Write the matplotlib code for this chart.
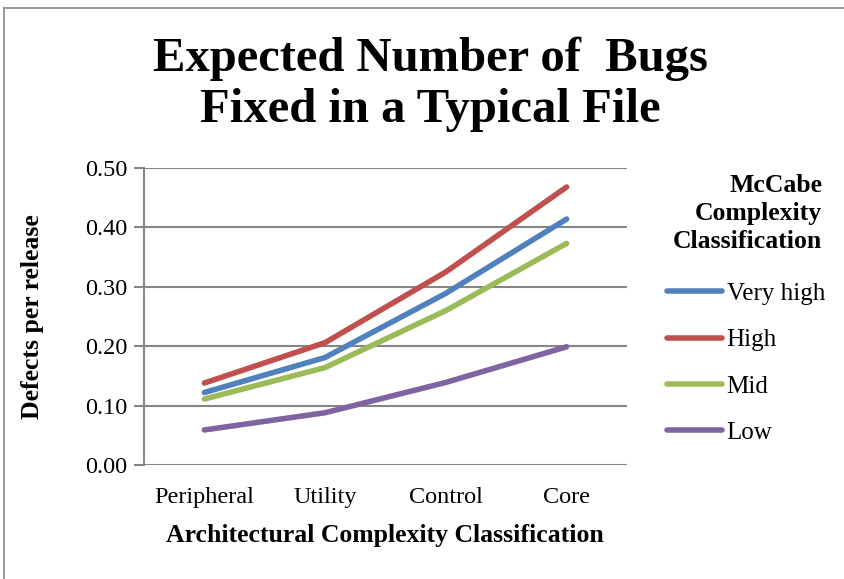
import matplotlib
matplotlib.use("Agg")
import matplotlib.pyplot as plt
from matplotlib.lines import Line2D

categories = ["Peripheral", "Utility", "Control", "Core"]
very_high = [0.122, 0.181, 0.289, 0.414]
high = [0.138, 0.206, 0.325, 0.468]
mid = [0.111, 0.164, 0.260, 0.373]
low = [0.059, 0.088, 0.139, 0.199]
series_names = ["Very high", "High", "Mid", "Low"]
colors = ["#4F81BD", "#C0504D", "#9BBB59", "#8064A2"]
yticks = [0.0, 0.1, 0.2, 0.3, 0.4, 0.5]

plt.rcParams['font.family'] = ['Liberation Serif', 'DejaVu Serif']

fig = plt.figure(figsize=(8.45, 5.79), dpi=100)
ax = fig.add_axes([0.1704, 0.1969, 0.5716, 0.5130])

x = list(range(len(categories)))
for vals, name, c in zip([very_high, high, mid, low], series_names, colors):
    ax.plot(x, vals, color=c, lw=4, solid_capstyle='round', solid_joinstyle='round', label=name, zorder=3)

ax.set_xlim(-0.5, 3.5)
ax.set_ylim(0, 0.5)
ax.set_yticks(yticks)
ax.set_yticklabels([f"{v:.2f}" for v in yticks], fontsize=17.5)
ax.set_xticks(x)
ax.set_xticklabels(categories, fontsize=17.5)
ax.grid(axis='y', color='#868686', lw=1.5)
ax.set_axisbelow(True)
for s in ['top', 'right', 'bottom']:
    ax.spines[s].set_visible(False)
ax.spines['left'].set_color('#868686')
ax.spines['left'].set_linewidth(1.5)
ax.tick_params(axis='y', length=7, width=1.5, color='#868686', pad=5)
ax.tick_params(axis='x', length=0, pad=16)

ax.set_xlabel("Architectural Complexity Classification", fontsize=18.5, fontweight='bold')
ax.xaxis.set_label_coords(0.499, -0.198)
ax.set_ylabel("Defects per release", fontsize=18.5, fontweight='bold')
ax.yaxis.set_label_coords(-0.207, 0.5)

fig.text(0.509, 0.855, "Expected Number of  Bugs\nFixed in a Typical File", ha='center', va='center',
         fontsize=35, fontweight='bold', linespacing=1.2)

fig.text(0.973, 0.699, "McCabe\nComplexity\nClassification", ha='right', va='top',
         fontsize=18.5, fontweight='bold', linespacing=1.28)

leg = fig.legend(loc='upper left', bbox_to_anchor=(0.777, 0.529), frameon=False, fontsize=18,
                 handlelength=2.2, handletextpad=0.2, labelspacing=0.95, borderaxespad=0)

# outer frame (left and top only visible)
fig.add_artist(Line2D([0.005, 0.005], [0, 0.986], transform=fig.transFigure, color='#868686', lw=1.2))
fig.add_artist(Line2D([0.005, 1.0], [0.986, 0.986], transform=fig.transFigure, color='#868686', lw=1.2))

fig.savefig("out.png", dpi=100)
